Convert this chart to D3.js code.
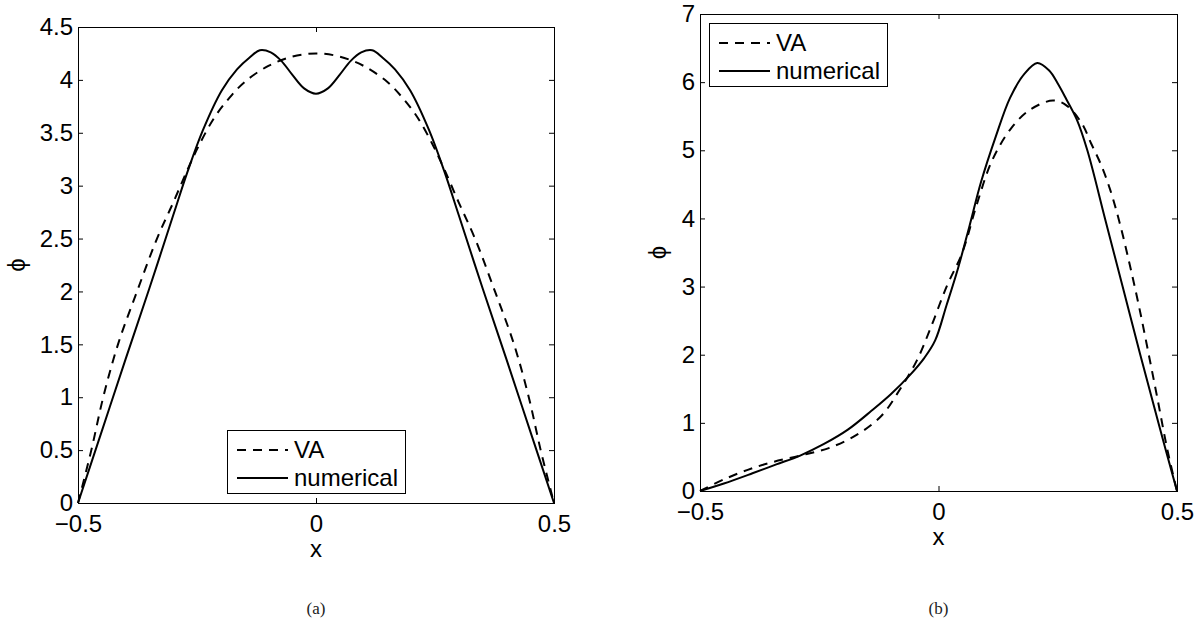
<!DOCTYPE html>
<html>
<head>
<meta charset="utf-8">
<script src="https://cdn.jsdelivr.net/npm/d3@7"></script>
<style>
  body { margin: 0; background: #fff; }
  svg { display: block; }
</style>
</head>
<body>
<div id="main"></div>
<script>
// panel (a): symmetric profile
let xA_num = [-0.5,-0.45,-0.4,-0.35,-0.3,-0.27,-0.238,-0.198,-0.166,-0.14,-0.118,-0.095,-0.073,-0.05,-0.025,0,
              0.025,0.05,0.073,0.095,0.118,0.14,0.166,0.198,0.238,0.27,0.3,0.35,0.4,0.45,0.5];
let phiA_num = [0,0.68,1.36,2.03,2.72,3.13,3.52,3.9,4.1,4.21,4.28,4.26,4.18,4.05,3.92,3.87,
                3.92,4.05,4.18,4.26,4.28,4.21,4.1,3.9,3.52,3.13,2.72,2.03,1.36,0.68,0];
let xA_va = [-0.5,-0.472,-0.447,-0.416,-0.376,-0.334,-0.3,-0.27,-0.246,-0.214,-0.182,-0.15,-0.101,-0.05,0,
             0.05,0.101,0.15,0.182,0.214,0.246,0.27,0.3,0.334,0.376,0.416,0.447,0.472,0.5];
let phiA_va = [0,0.5,1.0,1.5,2.0,2.5,2.84,3.15,3.38,3.64,3.83,3.98,4.13,4.22,4.25,
               4.22,4.13,3.98,3.83,3.64,3.38,3.15,2.84,2.5,2.0,1.5,1.0,0.5,0];

// panel (b): asymmetric profile
let xB_num = [-0.5,-0.45,-0.39,-0.34,-0.29,-0.24,-0.19,-0.14,-0.1,-0.06,-0.03,-0.007,0.017,0.041,0.065,0.089,0.12,0.15,0.18,
              0.207,0.232,0.25,0.268,0.29,0.312,0.349,0.386,0.423,0.461,0.5];
let phiB_num = [0,0.11,0.26,0.39,0.52,0.69,0.9,1.18,1.42,1.7,1.95,2.21,2.73,3.27,3.89,4.53,5.2,5.77,6.12,
                6.28,6.17,5.98,5.75,5.45,5.0,4.0,3.0,2.0,1.0,0];
let xB_va = [-0.5,-0.45,-0.4,-0.35,-0.29,-0.23,-0.17,-0.12,-0.08,-0.045,-0.015,0.017,0.05,0.08,0.113,0.153,0.193,
             0.24,0.268,0.3,0.32,0.34,0.36,0.38,0.4,0.42,0.44,0.46,0.48,0.5];
let phiB_va = [0,0.17,0.31,0.42,0.52,0.63,0.83,1.1,1.5,1.92,2.42,3.0,3.5,4.2,4.86,5.33,5.6,
               5.73,5.66,5.4,5.1,4.8,4.42,3.93,3.35,2.72,2.03,1.32,0.6,0];

let xTicks = [-0.5, 0, 0.5];
let yTicksA = [0,0.5,1,1.5,2,2.5,3,3.5,4,4.5];
let yTicksB = [0,1,2,3,4,5,6,7];
let legendLabels = ["VA", "numerical"];
let captions = ["(a)", "(b)"];

let fontSize = 24;
let dash = "9,7";

let svg = d3.select("#main")
    .append("svg")
    .attr("width", 1198)
    .attr("height", 621);

let fmt = d3.format("~g");

function panel(opt){
    let g = svg.append("g").attr("transform", `translate(${opt.left},${opt.top})`);
    let w = opt.size, h = opt.size;
    let x = d3.scaleLinear().domain([-0.5, 0.5]).range([0, w]);
    let y = d3.scaleLinear().domain(opt.yDomain).range([h, 0]);

    // mirrored inward ticks on all four sides
    let axes = [
        g.append("g").attr("transform", `translate(0,${h})`)
            .call(d3.axisBottom(x).tickValues(xTicks).tickSize(-5).tickSizeOuter(0).tickPadding(12).tickFormat(fmt)),
        g.append("g")
            .call(d3.axisTop(x).tickValues(xTicks).tickSize(-5).tickSizeOuter(0).tickFormat("")),
        g.append("g")
            .call(d3.axisLeft(y).tickValues(opt.yTicks).tickSize(-5).tickSizeOuter(0).tickPadding(5).tickFormat(fmt)),
        g.append("g").attr("transform", `translate(${w},0)`)
            .call(d3.axisRight(y).tickValues(opt.yTicks).tickSize(-5).tickSizeOuter(0).tickFormat(""))
    ];
    axes.forEach(a => {
        a.attr("font-size", null).attr("font-family", null);
        a.select(".domain").remove();
        a.selectAll("line").attr("stroke", "#000");
        a.selectAll("text")
            .attr("fill", "#000")
            .style("font-family", "'Liberation Sans', Arial, sans-serif")
            .style("font-size", fontSize + "px");
    });

    g.append("rect")
        .attr("x", 0.5).attr("y", 0.5)
        .attr("width", w).attr("height", h)
        .attr("fill", "none")
        .attr("stroke", "#000")
        .attr("stroke-width", 1);

    let line = d3.line()
        .x(d => x(d[0]))
        .y(d => y(d[1]))
        .curve(d3.curveCatmullRom.alpha(0.5));

    g.append("path")
        .datum(d3.zip(opt.xVa, opt.phiVa))
        .attr("d", line)
        .attr("fill", "none")
        .attr("stroke", "#000")
        .attr("stroke-width", 2)
        .attr("stroke-dasharray", dash);

    g.append("path")
        .datum(d3.zip(opt.xNum, opt.phiNum))
        .attr("d", line)
        .attr("fill", "none")
        .attr("stroke", "#000")
        .attr("stroke-width", 2);

    let txt = "font-family:'Liberation Sans', Arial, sans-serif;font-size:" + fontSize + "px";

    // axis labels
    g.append("text")
        .attr("x", w / 2).attr("y", h + 54)
        .attr("text-anchor", "middle")
        .attr("style", txt)
        .text("x");
    g.append("text")
        .attr("transform", `translate(${opt.phiX},${h / 2}) rotate(-90)`)
        .attr("text-anchor", "middle")
        .attr("dy", "0.35em")
        .attr("style", txt)
        .text("ϕ");

    // legend
    let lg = g.append("g").attr("transform", `translate(${opt.legX},${opt.legY})`);
    lg.append("rect")
        .attr("x", 0.5).attr("y", 0.5)
        .attr("width", 178).attr("height", 63)
        .attr("fill", "#fff")
        .attr("stroke", "#000")
        .attr("stroke-width", 1);
    legendLabels.forEach((lab, i) => {
        let ly = 20 + i * 28;
        lg.append("line")
            .attr("x1", 10).attr("x2", 61)
            .attr("y1", ly).attr("y2", ly)
            .attr("stroke", "#000")
            .attr("stroke-width", 2)
            .attr("stroke-dasharray", i === 0 ? dash : null);
        lg.append("text")
            .attr("x", 67).attr("y", ly)
            .attr("dy", "0.35em")
            .attr("style", txt)
            .text(lab);
    });

    svg.append("text")
        .attr("x", opt.left + w / 2).attr("y", 614)
        .attr("text-anchor", "middle")
        .style("font-family", "'Liberation Serif', 'DejaVu Serif', serif")
        .style("font-size", "17px")
        .attr("fill", "#222")
        .text(opt.caption);
}

panel({left: 78, top: 27, size: 476, yDomain: [0, 4.5], yTicks: yTicksA,
       xNum: xA_num, phiNum: phiA_num, xVa: xA_va, phiVa: phiA_va,
       phiX: -61, legX: 149, legY: 403, caption: captions[0]});

panel({left: 700, top: 14, size: 477, yDomain: [0, 7], yTicks: yTicksB,
       xNum: xB_num, phiNum: phiB_num, xVa: xB_va, phiVa: phiB_va,
       phiX: -42, legX: 9, legY: 9, caption: captions[1]});
</script>
</body>
</html>
